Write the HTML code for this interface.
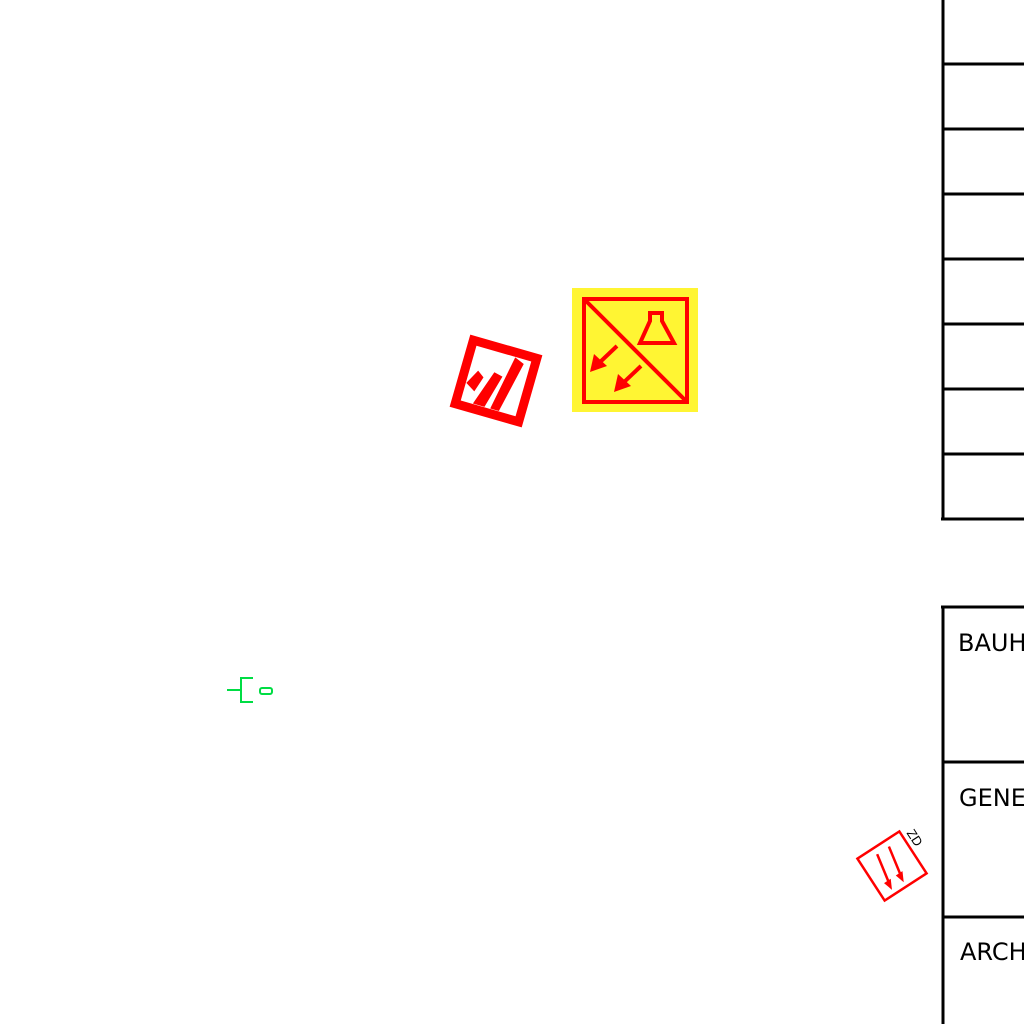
<!DOCTYPE html>
<html><head><style>html,body{margin:0;padding:0;background:#fff;width:1024px;height:1024px;overflow:hidden}</style></head>
<body>
<svg width="1024" height="1024" viewBox="0 0 1024 1024" xmlns="http://www.w3.org/2000/svg">
<rect width="1024" height="1024" fill="#fff"/>
<g stroke="#000" stroke-width="3" fill="none">
<line x1="943" y1="0" x2="943" y2="520"/>
<line x1="943" y1="64" x2="1024" y2="64"/>
<line x1="943" y1="129" x2="1024" y2="129"/>
<line x1="943" y1="194" x2="1024" y2="194"/>
<line x1="943" y1="259" x2="1024" y2="259"/>
<line x1="943" y1="324" x2="1024" y2="324"/>
<line x1="943" y1="389" x2="1024" y2="389"/>
<line x1="943" y1="454" x2="1024" y2="454"/>
<line x1="941" y1="519" x2="1024" y2="519"/>
<line x1="943" y1="607" x2="943" y2="1024"/>
<line x1="941" y1="607" x2="1024" y2="607"/>
<line x1="943" y1="762" x2="1024" y2="762"/>
<line x1="943" y1="917" x2="1024" y2="917"/>
</g>
<g font-family="DejaVu Sans, sans-serif" font-size="24" fill="#000">
<text x="958" y="651">BAUH</text>
<text x="959" y="806">GENE</text>
<text x="960" y="960">ARCH</text>
</g>
<rect x="572" y="288" width="126" height="124" fill="#fff533"/>
<g stroke="#f00" stroke-width="4" fill="none">
<rect x="584" y="299" width="103" height="103"/>
<line x1="586" y1="301" x2="685" y2="400"/>
<path d="M650 313 h12 v8 l12 22 h-34 l10-22 z"/>
<line x1="617" y1="346" x2="598" y2="364"/>
<line x1="641" y1="366" x2="622" y2="384"/>
</g>
<g fill="#f00">
<polygon points="590,372 594,354 607,366"/>
<polygon points="614,392 618,374 631,386"/>
</g>
<g transform="translate(496,381) rotate(16)">
<rect x="-33" y="-33" width="66" height="66" fill="none" stroke="#f00" stroke-width="9"/>
<path d="M-16 28 L-4 -8 L5 -6 L-4 28 Z M2 28 L12 -28 L22 -24 L11 28 Z M-28 10 L-20 -5 L-13 0 L-18 16 Z" fill="#f00"/>
</g>
<g transform="translate(892,866) rotate(-33)">
<rect x="-25" y="-25" width="50" height="50" fill="none" stroke="#f00" stroke-width="2.5"/>
<g stroke="#f00" stroke-width="2.5"><line x1="-6" y1="-18" x2="-12" y2="14"/><line x1="8" y1="-18" x2="2" y2="14"/></g>
<polygon points="-16,10 -8,10 -13,20" fill="#f00"/>
<polygon points="-2,10 6,10 1,20" fill="#f00"/>
<text x="30" y="-12" font-family="Liberation Sans, sans-serif" font-size="13" fill="#000" transform="rotate(90 34 -16)">ZD</text>
</g>
<g stroke="#00dd44" stroke-width="2" fill="none">
<line x1="227" y1="690" x2="241" y2="690"/>
<path d="M253 678 h-12 v24 h12"/>
<rect x="260" y="688" width="12" height="6" rx="2"/>
</g>
</svg>
</body></html>
